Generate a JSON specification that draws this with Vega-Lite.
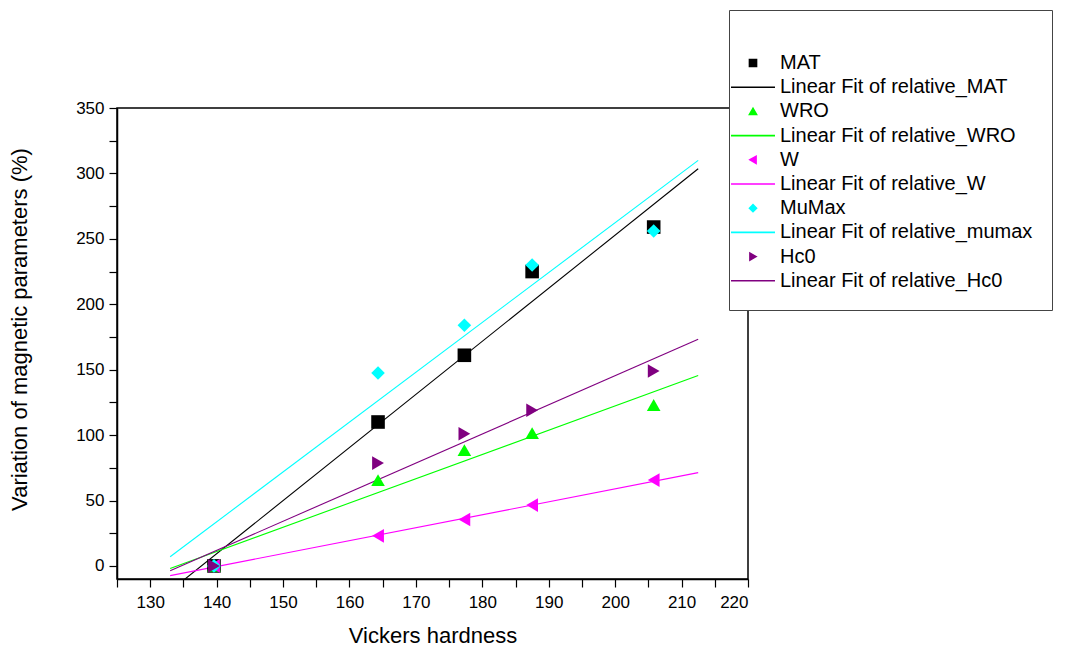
{
  "$schema": "https://vega.github.io/schema/vega-lite/v6.json",
  "width": 631,
  "height": 471,
  "autosize": {"type": "none"},
  "padding": {"left": 117, "top": 108, "right": 322, "bottom": 69},
  "background": "white",
  "config": {
    "font": "Liberation Sans",
    "view": {"stroke": "black", "strokeWidth": 1.5},
    "axis": {
      "domainColor": "black", "domainWidth": 1.5, "tickColor": "black", "tickWidth": 1.2,
      "tickSize": 8, "labelColor": "black", "titleColor": "black", "labelFontSize": 17,
      "titleFontSize": 22, "titleFontWeight": "normal", "grid": false, "labelFont": "Liberation Sans", "titleFont": "Liberation Sans"
    }
  },
  "datasets": {
    "pts": [
      {"hv": 139.6, "val": 0, "series": "MAT"},
      {"hv": 164.3, "val": 110, "series": "MAT"},
      {"hv": 177.3, "val": 161, "series": "MAT"},
      {"hv": 187.5, "val": 225, "series": "MAT"},
      {"hv": 205.8, "val": 259, "series": "MAT"},
      {"hv": 139.6, "val": 0, "series": "WRO"},
      {"hv": 164.3, "val": 65.6, "series": "WRO"},
      {"hv": 177.3, "val": 88.5, "series": "WRO"},
      {"hv": 187.5, "val": 101.5, "series": "WRO"},
      {"hv": 205.8, "val": 123, "series": "WRO"},
      {"hv": 139.6, "val": 0, "series": "W"},
      {"hv": 164.3, "val": 23, "series": "W"},
      {"hv": 177.3, "val": 35.5, "series": "W"},
      {"hv": 187.5, "val": 46.5, "series": "W"},
      {"hv": 205.8, "val": 65.6, "series": "W"},
      {"hv": 139.6, "val": 0, "series": "MuMax"},
      {"hv": 164.3, "val": 147.4, "series": "MuMax"},
      {"hv": 177.3, "val": 184, "series": "MuMax"},
      {"hv": 187.5, "val": 230, "series": "MuMax"},
      {"hv": 205.8, "val": 256, "series": "MuMax"},
      {"hv": 139.6, "val": 0, "series": "Hc0"},
      {"hv": 164.3, "val": 78.6, "series": "Hc0"},
      {"hv": 177.3, "val": 101, "series": "Hc0"},
      {"hv": 187.5, "val": 119, "series": "Hc0"},
      {"hv": 205.8, "val": 149, "series": "Hc0"}
    ],
    "fits": [
      {"hv": 133, "val": -19.1, "series": "Linear Fit of relative_MAT"},
      {"hv": 212.5, "val": 303.6, "series": "Linear Fit of relative_MAT"},
      {"hv": 133, "val": -2.0, "series": "Linear Fit of relative_WRO"},
      {"hv": 212.5, "val": 145.5, "series": "Linear Fit of relative_WRO"},
      {"hv": 133, "val": -7.4, "series": "Linear Fit of relative_W"},
      {"hv": 212.5, "val": 71.3, "series": "Linear Fit of relative_W"},
      {"hv": 133, "val": 7, "series": "Linear Fit of relative_mumax"},
      {"hv": 212.5, "val": 310, "series": "Linear Fit of relative_mumax"},
      {"hv": 133, "val": -3.7, "series": "Linear Fit of relative_Hc0"},
      {"hv": 212.5, "val": 173.2, "series": "Linear Fit of relative_Hc0"}
    ]
  },
  "encoding": {
    "x": {
      "field": "hv", "type": "quantitative",
      "scale": {"domain": [125, 220], "nice": false, "zero": false},
      "axis": {
        "title": "Vickers hardness", "values": [125,130,135,140,145,150,155,160,165,170,175,180,185,190,195,200,205,210,215,220],
        "labelExpr": "datum.value % 10 == 0 ? datum.label : ''", "labelPadding": 7, "titlePadding": 15
      }
    },
    "y": {
      "field": "val", "type": "quantitative",
      "scale": {"domain": [-10, 350], "nice": false, "zero": false},
      "axis": {
        "title": "Variation of magnetic parameters (%)", "values": [0,25,50,75,100,125,150,175,200,225,250,275,300,325,350],
        "labelExpr": "datum.value % 50 == 0 ? datum.label : ''", "labelPadding": 5, "titlePadding": 44, "titleY": 221
      }
    },
    "color": {
      "field": "series", "type": "nominal",
      "scale": {
        "domain": ["MAT", "Linear Fit of relative_MAT", "WRO", "Linear Fit of relative_WRO", "W", "Linear Fit of relative_W", "MuMax", "Linear Fit of relative_mumax", "Hc0", "Linear Fit of relative_Hc0"],
        "range": ["#000000", "#000000", "#00ff00", "#00ff00", "#ff00ff", "#ff00ff", "#00ffff", "#00ffff", "#800080", "#800080"]
      },
      "legend": {
        "title": " ", "titleFontSize": 10, "titlePadding": 14,
        "orient": "none", "legendX": 612, "legendY": -98,
        "padding": 19, "fillColor": "white", "strokeColor": "#444444",
        "labelFontSize": 20, "labelColor": "black", "labelFont": "Liberation Sans", "labelLimit": 600,
        "symbolSize": 50, "symbolOffset": -5, "labelOffset": 17, "rowPadding": 4.2,
        "encode": {
          "symbols": {"update": {
            "fill": {"scale": "color", "field": "value"},
            "stroke": {"scale": "color", "field": "value"},
            "strokeWidth": {"value": 1.6},
            "opacity": {"value": 1}
          }}
        }
      }
    }
  },
  "layer": [
    {
      "data": {"name": "fits"},
      "mark": {"type": "line", "strokeWidth": 1.1, "clip": true},
      "encoding": {}
    },
    {
      "data": {"name": "pts"},
      "mark": {"type": "point", "filled": true, "opacity": 1, "size": 185},
      "encoding": {
        "shape": {
          "field": "series", "type": "nominal",
          "scale": {
            "domain": ["MAT", "Linear Fit of relative_MAT", "WRO", "Linear Fit of relative_WRO", "W", "Linear Fit of relative_W", "MuMax", "Linear Fit of relative_mumax", "Hc0", "Linear Fit of relative_Hc0"],
            "range": ["square", "M-6.22,0H6.22", "triangle-up", "M-6.22,0H6.22", "triangle-left", "M-6.22,0H6.22", "diamond", "M-6.22,0H6.22", "triangle-right", "M-6.22,0H6.22"]
          },
          "legend": {
            "title": " ", "titleFontSize": 10, "titlePadding": 14,
            "orient": "none", "legendX": 612, "legendY": -98,
            "padding": 19, "fillColor": "white", "strokeColor": "#444444",
            "labelFontSize": 20, "labelColor": "black", "labelFont": "Liberation Sans", "labelLimit": 600,
            "symbolSize": 50, "symbolOffset": -5, "labelOffset": 17, "rowPadding": 4.2
          }
        }
      }
    }
  ]
}
